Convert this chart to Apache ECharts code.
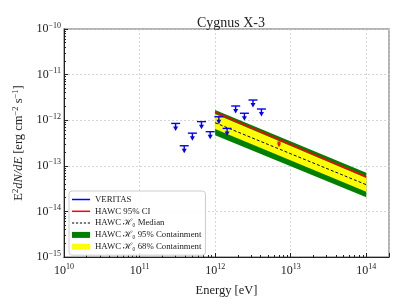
<!DOCTYPE html>
<html><head><meta charset="utf-8">
<script src="https://cdn.jsdelivr.net/npm/echarts@6/dist/echarts.min.js"></script>
<style>html,body{margin:0;padding:0;background:#fff}#c{width:407px;height:305px}</style>
</head><body><div id="c"></div>
<script>
// VERITAS upper limits
const veritasE = [3.0e11, 3.9e11, 5.0e11, 6.6e11, 8.6e11, 1.12e12, 1.44e12, 1.87e12, 2.44e12, 3.17e12, 4.1e12];
const veritasUL = [8.5e-13, 2.75e-13, 5.2e-13, 9.3e-13, 5.6e-13, 1.19e-12, 6.6e-13, 2.05e-12, 1.42e-12, 2.77e-12, 1.76e-12];
// HAWC point
const hawcE = [7.0e12];
const hawcUL = [3.3e-13];
// HAWC model lines / bands
const bandE = [1e12, 1e14];
const hawcCI = [1.49e-12, 5.77e-14];
const median = [8.8e-13, 3.85e-14];
const c68Upper = [1.37e-12, 5.4e-14];
const c68Lower = [6.4e-13, 2.7e-14];
const c95Upper = [1.67e-12, 7.06e-14];
const c95Lower = [4.7e-13, 2.04e-14];

const FONT = 'Liberation Serif';
const MINUS = '\u2212';
function expLabel(v) {
  const e = Math.round(Math.log10(v));
  return '{b|10}{s|' + String(e).replace('-', MINUS) + '}';
}
const richLab = {
  b: {fontFamily: FONT, fontSize: 12, color: '#222'},
  s: {fontFamily: FONT, fontSize: 8, color: '#222', padding: [0, 0, 7, 0]}
};

function bandSeries(name, upper, lower, color) {
  return {
    name: name, type: 'custom', coordinateSystem: 'cartesian2d',
    itemStyle: {color: color},
    data: [[bandE[0], upper[0]]],
    renderItem: function (params, api) {
      const pts = [];
      for (let i = 0; i < bandE.length; i++) pts.push(api.coord([bandE[i], upper[i]]));
      for (let i = bandE.length - 1; i >= 0; i--) pts.push(api.coord([bandE[i], lower[i]]));
      return {type: 'polygon', shape: {points: pts}, style: {fill: color}};
    }
  };
}
function ulSeries(name, es, fs, color, w, stem, head) {
  return {
    name: name, type: 'custom', coordinateSystem: 'cartesian2d',
    itemStyle: {color: color}, z: 5,
    data: es.map((e, i) => [e, fs[i]]),
    renderItem: function (params, api) {
      const p = api.coord([api.value(0), api.value(1)]);
      const x = p[0], y = p[1];
      return {type: 'group', children: [
        {type: 'line', shape: {x1: x - w, y1: y, x2: x + w, y2: y}, style: {stroke: color, lineWidth: 1.4}},
        {type: 'line', shape: {x1: x, y1: y, x2: x, y2: y + stem}, style: {stroke: color, lineWidth: 1.4}},
        {type: 'polygon', shape: {points: [[x - head, y + stem - 1], [x + head, y + stem - 1], [x, y + stem + head + 1]]}, style: {fill: color}}
      ]};
    }
  };
}
const DASH_ICON = 'path://M0,0h2.2v1h-2.2zM3.95,0h2.2v1h-2.2zM7.9,0h2.2v1h-2.2zM11.85,0h2.2v1h-2.2zM15.8,0h2.2v1h-2.2z';
function legendStyle(c) { return {color: c, borderColor: c, borderWidth: 0}; }
const legendText = {fontFamily: FONT, fontSize: 8.8, color: '#222'};

const chart = echarts.init(document.getElementById('c'), null, {renderer: 'canvas'});
chart.setOption({
  animation: false,
  title: {text: 'Cygnus X-3', left: 226, top: 11, textAlign: 'center',
    textStyle: {fontFamily: FONT, fontSize: 14, fontWeight: 'normal', color: '#222'}},
  grid: {left: 64, right: 18, top: 29, bottom: 48, show: true, borderColor: '#999', borderWidth: 1.5, backgroundColor: 'transparent'},
  xAxis: {
    type: 'log', logBase: 10, min: 1e10, max: 2e14,
    name: 'Energy [eV]', nameLocation: 'middle', nameGap: 27,
    nameTextStyle: {fontFamily: FONT, fontSize: 12.5, color: '#222'},
    axisLine: {lineStyle: {color: '#222', width: 1}},
    axisTick: {inside: true, length: 4, lineStyle: {color: '#222'}},
    minorTick: {show: true, splitNumber: 9, length: 2, lineStyle: {color: '#222'}},
    splitLine: {show: true, lineStyle: {color: '#ccc', type: [2, 2], width: 0.8}},
    axisLabel: {formatter: expLabel, rich: richLab, margin: 6, showMaxLabel: false}
  },
  yAxis: {
    type: 'log', logBase: 10, min: 1e-15, max: 1e-10,
    name: '{t|E}{s|2}{i|dN/dE}{t| [erg cm}{s|\u22122}{t| s}{s|\u22121}{t|]}', nameLocation: 'middle', nameGap: 30,
    nameTextStyle: {fontFamily: FONT, fontSize: 12.5, color: '#222', rich: {
      t: {fontFamily: FONT, fontSize: 12.5, color: '#222'},
      i: {fontFamily: FONT, fontSize: 12.5, fontStyle: 'italic', color: '#222'},
      s: {fontFamily: FONT, fontSize: 8.5, color: '#222', padding: [0, 0, 7, 0]}
    }},
    axisLine: {lineStyle: {color: '#222', width: 1}},
    axisTick: {inside: true, length: 4, lineStyle: {color: '#222'}},
    minorTick: {show: true, splitNumber: 9, length: 2, lineStyle: {color: '#222'}},
    splitLine: {show: true, lineStyle: {color: '#ccc', type: [2, 2], width: 0.8}},
    axisLabel: {formatter: expLabel, rich: richLab, margin: 3}
  },
  legend: [
    { // line entries (drawn over the box of the second legend)
      z: 6, orient: 'vertical', left: 69, top: 191, padding: [4, 4, 4, 3], itemGap: 2.8,
      itemWidth: 18, itemHeight: 1.5, textStyle: legendText,
      data: [
        {name: 'VERITAS', icon: 'rect', itemStyle: legendStyle('#0000ff')},
        {name: 'HAWC 95% CI', icon: 'rect', itemStyle: legendStyle('#ff0000')},
        {name: 'HAWC \u210B\u2080 Median', icon: DASH_ICON, itemStyle: legendStyle('#000000')}
      ]
    },
    { // patch entries, with the legend box
      z: 4, orient: 'vertical', left: 69, top: 191, padding: [39.4, 4, 4, 3], itemGap: 2.8,
      itemWidth: 18, itemHeight: 6, textStyle: legendText,
      backgroundColor: 'rgba(255,255,255,0.85)', borderColor: '#ccc', borderWidth: 1, borderRadius: 3,
      data: [
        {name: 'HAWC \u210B\u2080 95% Containment', icon: 'rect', itemStyle: legendStyle('#008000')},
        {name: 'HAWC \u210B\u2080 68% Containment', icon: 'rect', itemStyle: legendStyle('#ffff00')}
      ]
    }
  ],
  series: [
    bandSeries('HAWC \u210B\u2080 95% Containment', c95Upper, c95Lower, '#008000'),
    bandSeries('HAWC \u210B\u2080 68% Containment', c68Upper, c68Lower, '#ffff00'),
    {name: 'HAWC \u210B\u2080 Median', type: 'line', symbol: 'none', z: 3,
      data: bandE.map((e, i) => [e, median[i]]),
      lineStyle: {color: '#000', width: 1, type: [3, 2]}, itemStyle: {color: '#000'}},
    {name: 'HAWC 95% CI', type: 'line', symbol: 'none', z: 3,
      data: bandE.map((e, i) => [e, hawcCI[i]]),
      lineStyle: {color: '#ff0000', width: 1.6}, itemStyle: {color: '#ff0000'}},
    {name: 'VERITAS', type: 'line', symbol: 'none', data: [],
      lineStyle: {color: '#0000ff', width: 1.5}, itemStyle: {color: '#0000ff'}},
    ulSeries('veritasUL', veritasE, veritasUL, '#0000ff', 4.5, 4, 2.5),
    ulSeries('hawcUL', hawcE, hawcUL, '#ff0000', 1.5, 2, 2)
  ]
});
</script></body></html>
